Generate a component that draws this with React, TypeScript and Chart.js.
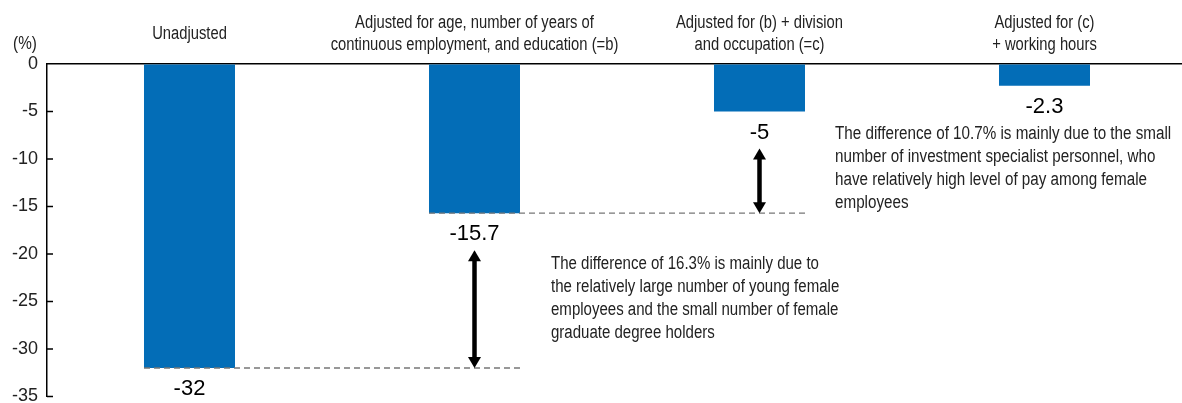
import React, { useEffect, useRef } from 'react';
import { Chart, registerables } from 'chart.js';

Chart.register(...registerables);

const categories: string[][] = [
  ['Unadjusted'],
  ['Adjusted for age, number of years of', 'continuous employment, and education (=b)'],
  ['Adjusted for (b) + division', 'and occupation (=c)'],
  ['Adjusted for (c)', '+ working hours'],
];
const gapValues: number[] = [-32, -15.7, -5, -2.3];
const valueLabels: string[] = ['-32', '-15.7', '-5', '-2.3'];
const yMin = -35;
const yMax = 0;
const yStep = 5;
const yUnit = '(%)';
const note1: string[] = [
  'The difference of 16.3% is mainly due to',
  'the relatively large number of young female',
  'employees and the small number of female',
  'graduate degree holders',
];
const note2: string[] = [
  'The difference of 10.7% is mainly due to the small',
  'number of investment specialist personnel, who',
  'have relatively high level of pay among female',
  'employees',
];

const SANS = '"Liberation Sans", Arial, sans-serif';
const BAR_COLOR = '#036db7';
const TEXT = '#222';

function narrowText(ctx: CanvasRenderingContext2D, text: string, x: number, y: number, k: number) {
  ctx.save();
  ctx.scale(k, 1);
  ctx.fillText(text, x / k, y);
  ctx.restore();
}

function drawArrow(ctx: CanvasRenderingContext2D, x: number, y1: number, y2: number) {
  const head = 11;
  const hw = 6.5;
  ctx.save();
  ctx.strokeStyle = '#000';
  ctx.fillStyle = '#000';
  ctx.lineWidth = 4.5;
  ctx.beginPath();
  ctx.moveTo(x, y1 + head - 2);
  ctx.lineTo(x, y2 - head + 2);
  ctx.stroke();
  ctx.beginPath();
  ctx.moveTo(x, y1);
  ctx.lineTo(x - hw, y1 + head);
  ctx.lineTo(x + hw, y1 + head);
  ctx.closePath();
  ctx.fill();
  ctx.beginPath();
  ctx.moveTo(x, y2);
  ctx.lineTo(x - hw, y2 - head);
  ctx.lineTo(x + hw, y2 - head);
  ctx.closePath();
  ctx.fill();
  ctx.restore();
}

const overlay = {
  id: 'overlay',
  afterDraw(chart: any) {
    const ctx: CanvasRenderingContext2D = chart.ctx;
    const xs = chart.scales.x;
    const ys = chart.scales.y;
    const area = chart.chartArea;
    const bars = chart.getDatasetMeta(0).data;
    ctx.save();

    // inward tick marks
    ctx.strokeStyle = '#000';
    ctx.lineWidth = 1.5;
    ys.ticks.forEach((t: any) => {
      if (t.value === yMax) return;
      const py = ys.getPixelForValue(t.value);
      ctx.beginPath();
      ctx.moveTo(area.left, py);
      ctx.lineTo(area.left + 6, py);
      ctx.stroke();
    });

    // unit label
    ctx.fillStyle = TEXT;
    ctx.font = '18px ' + SANS;
    ctx.textAlign = 'center';
    ctx.textBaseline = 'middle';
    narrowText(ctx, yUnit, 25, area.top - 20, 0.85);

    // category labels
    const lh = 22.6;
    categories.forEach((lines, i) => {
      const cx = xs.getPixelForValue(i);
      const y0 = area.top - 30 - ((lines.length - 1) * lh) / 2;
      lines.forEach((l, j) => narrowText(ctx, l, cx, y0 + j * lh, 0.82));
    });

    // value labels
    ctx.fillStyle = '#000';
    ctx.font = '22px ' + SANS;
    gapValues.forEach((v, i) => {
      ctx.fillText(valueLabels[i], bars[i].x, ys.getPixelForValue(v) + 21);
    });

    // dashed reference lines
    ctx.strokeStyle = '#777';
    ctx.lineWidth = 1.3;
    ctx.setLineDash([6, 4]);
    for (let i = 0; i < 2; i++) {
      const py = ys.getPixelForValue(gapValues[i]);
      ctx.beginPath();
      ctx.moveTo(bars[i].x - bars[i].width / 2, py);
      ctx.lineTo(bars[i + 1].x + bars[i + 1].width / 2, py);
      ctx.stroke();
    }
    ctx.setLineDash([]);

    // arrows
    for (let i = 1; i < 3; i++) {
      drawArrow(ctx, bars[i].x, ys.getPixelForValue(gapValues[i]) + 37, ys.getPixelForValue(gapValues[i - 1]));
    }

    // notes
    ctx.fillStyle = TEXT;
    ctx.font = '18px ' + SANS;
    ctx.textAlign = 'left';
    const nl = 22.8;
    const n1x = bars[1].x + bars[1].width / 2 + 31;
    const n1y = ys.getPixelForValue(gapValues[1]) + 51;
    note1.forEach((l, j) => narrowText(ctx, l, n1x, n1y + j * nl, 0.835));
    const n2x = bars[2].x + bars[2].width / 2 + 30;
    const n2y = ys.getPixelForValue(gapValues[2]) + 23;
    note2.forEach((l, j) => narrowText(ctx, l, n2x, n2y + j * nl, 0.845));

    ctx.restore();
  },
};

export default function App() {
  const ref = useRef<HTMLCanvasElement | null>(null);
  useEffect(() => {
    if (!ref.current) return;
    const chart = new Chart(ref.current, {
      type: 'bar',
      data: {
        labels: categories.map((c) => c.join(' ')),
        datasets: [
          {
            data: gapValues,
            backgroundColor: BAR_COLOR,
            borderWidth: 0,
            categoryPercentage: 1,
            barPercentage: 0.3193,
          },
        ],
      },
      options: {
        animation: false,
        responsive: true,
        maintainAspectRatio: false,
        layout: { padding: { left: 0, top: 64, right: 3, bottom: 6.5 } },
        plugins: { legend: { display: false }, tooltip: { enabled: false } },
        scales: {
          x: {
            position: 'top',
            offset: true,
            ticks: { display: false },
            grid: { display: true, drawOnChartArea: false, drawTicks: false },
            border: { display: true, color: '#000', width: 1.5 },
            afterFit: (s: any) => {
              s.height = 0;
              s.paddingLeft = 0;
              s.paddingRight = 0;
            },
          },
          y: {
            position: 'left',
            min: yMin,
            max: yMax,
            ticks: {
              stepSize: yStep,
              padding: 9,
              color: TEXT,
              font: { family: SANS, size: 18 },
            },
            grid: { display: true, drawOnChartArea: false, drawTicks: false },
            border: { display: true, color: '#000', width: 1.5 },
            afterFit: (s: any) => {
              s.width = 47;
              s.paddingTop = 0;
              s.paddingBottom = 0;
            },
          },
        },
      },
      plugins: [overlay],
    });
    return () => chart.destroy();
  }, []);
  return (
    <div style={{ position: 'absolute', left: 0, top: 0, width: 1182, height: 403, overflow: 'hidden', background: '#fff' }}>
      <div style={{ position: 'relative', width: 1190, height: 403 }}>
        <canvas ref={ref} />
      </div>
    </div>
  );
}
